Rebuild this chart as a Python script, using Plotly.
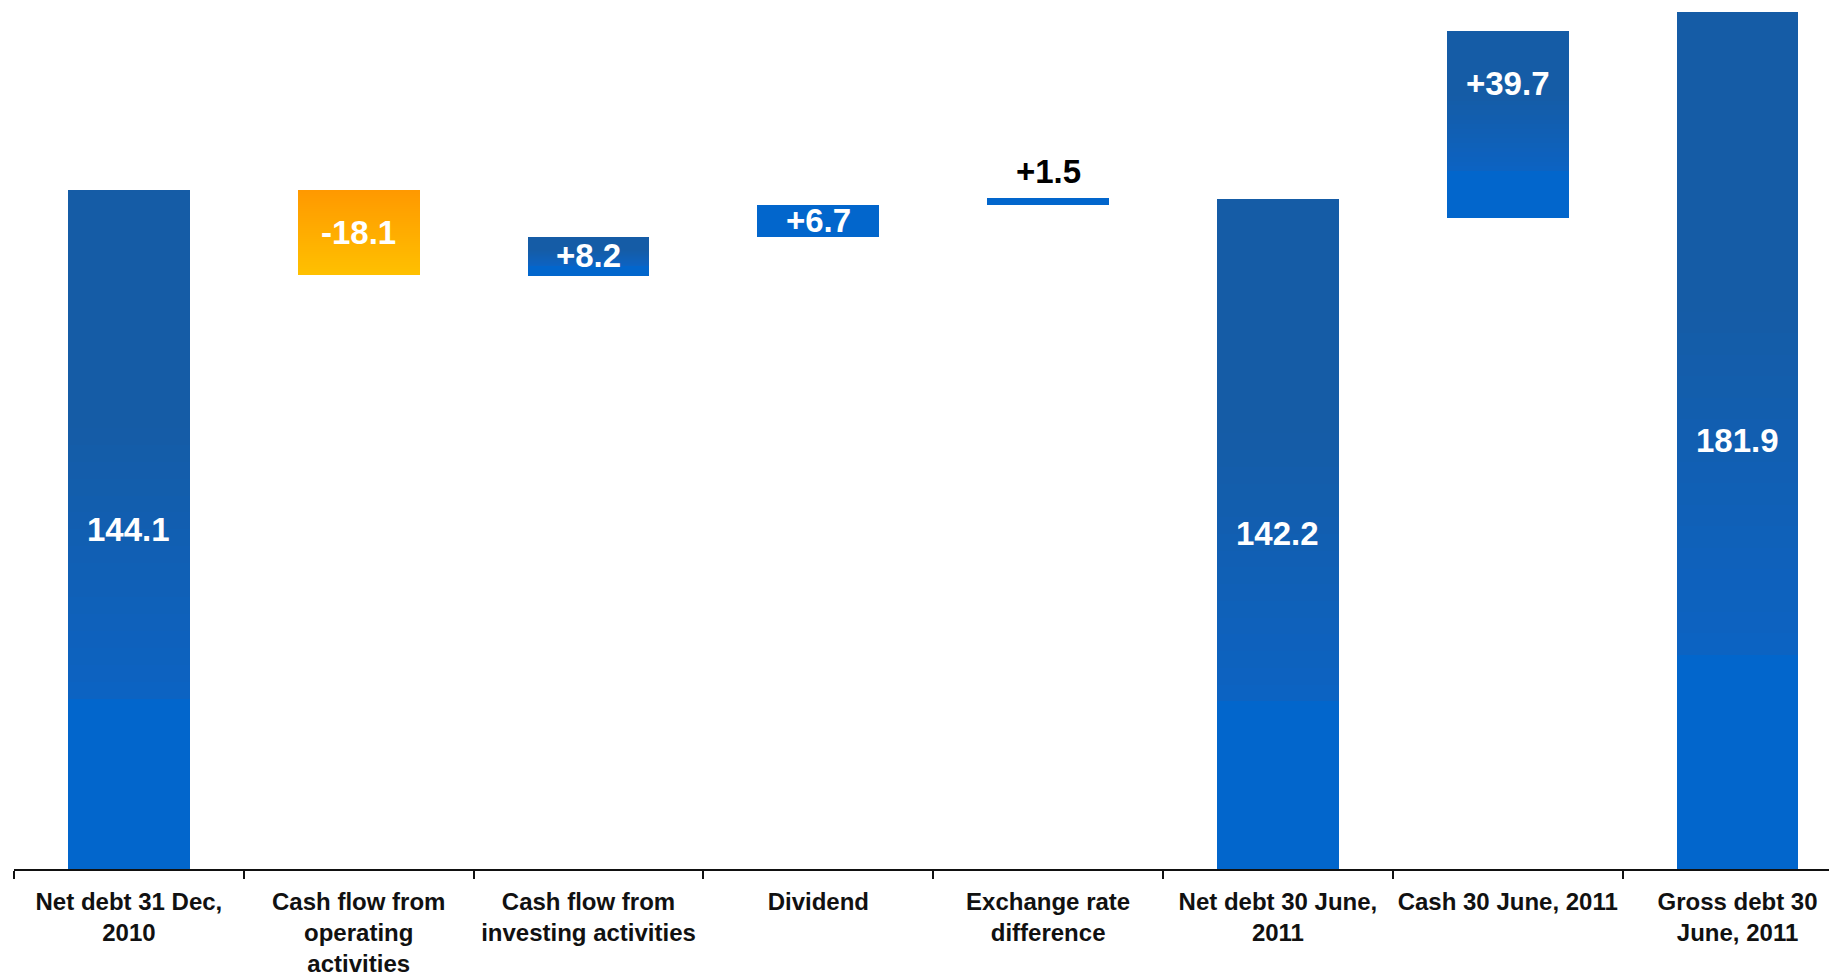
import plotly.graph_objects as go

# Net debt bridge, MSEK
categories = [
    "Net debt 31 Dec,<br>2010",
    "Cash flow from<br>operating<br>activities",
    "Cash flow from<br>investing activities",
    "Dividend",
    "Exchange rate<br>difference",
    "Net debt 30 June,<br>2011",
    "Cash 30 June, 2011",
    "Gross debt 30<br>June, 2011",
]
kinds = ["total", "step", "step", "step", "step", "total", "step", "total"]
values = [144.1, -18.1, 8.2, 6.7, 1.5, 142.2, 39.7, 181.9]
# invisible base series the floating bars sit on
hidden_base = [0.0, 126.0, 126.0, 134.2, 140.9, 0.0, 138.2, 0.0]

heights = [abs(v) for v in values]
bottoms = hidden_base
tops = [b + h for b, h in zip(bottoms, heights)]

BLUE_TOP = (21, 92, 166)
BLUE_MID = (12, 99, 195)
BLUE_BOT = (2, 102, 204)
ORANGE_TOP = (255, 152, 0)
ORANGE_BOT = (255, 193, 0)


def mix(a, b, f):
    return tuple(round(a[i] + (b[i] - a[i]) * f) for i in range(3))


def shade(v, h, t):
    """Colour at relative depth t (0 = top of bar, 1 = bottom)."""
    if v < 0:
        c = mix(ORANGE_TOP, ORANGE_BOT, t)
    elif h < 7.5:
        c = BLUE_BOT
    elif t < 0.35:
        c = BLUE_TOP
    elif t < 0.75:
        c = mix(BLUE_TOP, BLUE_MID, (t - 0.35) / 0.4)
    else:
        c = BLUE_BOT
    return "rgb(%d,%d,%d)" % c


fig = go.Figure()

# vertical gradient: each layer runs from the bar bottom up to a lower top edge
N = 40
for k in range(N):
    f = k / N
    layer_h = [h * (1 - f) for h in heights]
    colors = [shade(v, h, (k + 0.5) / N) for v, h in zip(values, heights)]
    fig.add_trace(go.Bar(
        x=categories, y=layer_h, base=bottoms, width=0.53,
        marker=dict(color=colors, line=dict(width=0)),
        hoverinfo="skip", showlegend=False,
    ))

FONT = "Liberation Sans, Arial, Helvetica, sans-serif"

for cat, kd, v, b, h, top in zip(categories, kinds, values, bottoms, heights, tops):
    txt = ("%.1f" % v) if kd == "total" else ("%+.1f" % v)
    if h < 3:
        fig.add_annotation(x=cat, y=top, text=txt, showarrow=False, yanchor="bottom",
                           yshift=6, font=dict(family=FONT, size=33, color="#000000", weight="bold"))
    elif kd == "step" and h > 30:
        fig.add_annotation(x=cat, y=top, text=txt, showarrow=False, yanchor="middle",
                           yshift=-53, font=dict(family=FONT, size=33, color="#ffffff", weight="bold"))
    else:
        fig.add_annotation(x=cat, y=b + h / 2, text=txt, showarrow=False, yanchor="middle",
                           font=dict(family=FONT, size=33, color="#ffffff", weight="bold"))

fig.update_layout(
    width=1829, height=978,
    margin=dict(l=14, r=0, t=0, b=109),
    paper_bgcolor="white", plot_bgcolor="white",
    barmode="overlay", bargap=0,
    showlegend=False,
    xaxis=dict(
        type="category", range=[-0.5, 7.398],
        tickson="boundaries", ticks="outside", ticklen=8, tickwidth=2, tickcolor="#111111",
        showline=True, linewidth=2, linecolor="#111111",
        showgrid=False, zeroline=False,
        tickangle=0, automargin=False,
        tickfont=dict(family=FONT, size=24, color="#111111", weight="bold"),
        ticklabelstandoff=10,
    ),
    yaxis=dict(range=[0, 184.4], visible=False, showgrid=False, zeroline=False),
)

fig.write_html("out.html")
